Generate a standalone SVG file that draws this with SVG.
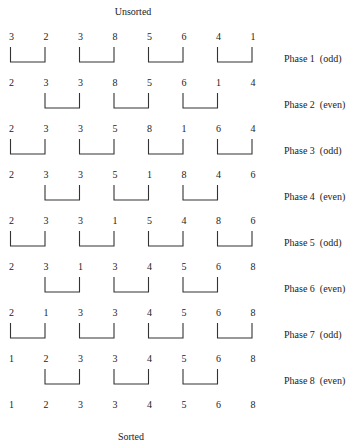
<svg xmlns="http://www.w3.org/2000/svg" width="356" height="443" viewBox="0 0 356 443" font-family="'Liberation Serif', 'Times New Roman', serif">
<style>
text{font-family:"Liberation Serif","Times New Roman",serif;font-size:10px;fill:#222}
.n{text-anchor:middle}
.lbl{white-space:pre}
.b{fill:none;stroke:#333;stroke-width:1.1}
</style>
<rect width="356" height="443" fill="#fff"/>
<g id="title-unsorted"><text x="133" y="15" class="n">Unsorted</text></g>
<g id="row1"><text class="n" y="40"><tspan x="11.5">3</tspan><tspan x="46">2</tspan><tspan x="80.5">3</tspan><tspan x="115">8</tspan><tspan x="149.5">5</tspan><tspan x="184">6</tspan><tspan x="218.5">4</tspan><tspan x="253">1</tspan></text></g>
<g id="row2"><text class="n" y="86"><tspan x="11.5">2</tspan><tspan x="46">3</tspan><tspan x="80.5">3</tspan><tspan x="115">8</tspan><tspan x="149.5">5</tspan><tspan x="184">6</tspan><tspan x="218.5">1</tspan><tspan x="253">4</tspan></text></g>
<g id="row3"><text class="n" y="132"><tspan x="11.5">2</tspan><tspan x="46">3</tspan><tspan x="80.5">3</tspan><tspan x="115">5</tspan><tspan x="149.5">8</tspan><tspan x="184">1</tspan><tspan x="218.5">6</tspan><tspan x="253">4</tspan></text></g>
<g id="row4"><text class="n" y="178"><tspan x="11.5">2</tspan><tspan x="46">3</tspan><tspan x="80.5">3</tspan><tspan x="115">5</tspan><tspan x="149.5">1</tspan><tspan x="184">8</tspan><tspan x="218.5">4</tspan><tspan x="253">6</tspan></text></g>
<g id="row5"><text class="n" y="224"><tspan x="11.5">2</tspan><tspan x="46">3</tspan><tspan x="80.5">3</tspan><tspan x="115">1</tspan><tspan x="149.5">5</tspan><tspan x="184">4</tspan><tspan x="218.5">8</tspan><tspan x="253">6</tspan></text></g>
<g id="row6"><text class="n" y="270"><tspan x="11.5">2</tspan><tspan x="46">3</tspan><tspan x="80.5">1</tspan><tspan x="115">3</tspan><tspan x="149.5">4</tspan><tspan x="184">5</tspan><tspan x="218.5">6</tspan><tspan x="253">8</tspan></text></g>
<g id="row7"><text class="n" y="316"><tspan x="11.5">2</tspan><tspan x="46">1</tspan><tspan x="80.5">3</tspan><tspan x="115">3</tspan><tspan x="149.5">4</tspan><tspan x="184">5</tspan><tspan x="218.5">6</tspan><tspan x="253">8</tspan></text></g>
<g id="row8"><text class="n" y="362"><tspan x="11.5">1</tspan><tspan x="46">2</tspan><tspan x="80.5">3</tspan><tspan x="115">3</tspan><tspan x="149.5">4</tspan><tspan x="184">5</tspan><tspan x="218.5">6</tspan><tspan x="253">8</tspan></text></g>
<g id="row9"><text class="n" y="408"><tspan x="11.5">1</tspan><tspan x="46">2</tspan><tspan x="80.5">3</tspan><tspan x="115">3</tspan><tspan x="149.5">4</tspan><tspan x="184">5</tspan><tspan x="218.5">6</tspan><tspan x="253">8</tspan></text></g>
<g id="title-sorted"><text x="131" y="440" class="n">Sorted</text></g>
<g id="phase1"><text x="284" y="62" class="lbl">Phase 1  (odd)</text></g>
<g id="phase2"><text x="284" y="108" class="lbl">Phase 2  (even)</text></g>
<g id="phase3"><text x="284" y="154" class="lbl">Phase 3  (odd)</text></g>
<g id="phase4"><text x="284" y="200" class="lbl">Phase 4  (even)</text></g>
<g id="phase5"><text x="284" y="246" class="lbl">Phase 5  (odd)</text></g>
<g id="phase6"><text x="284" y="292" class="lbl">Phase 6  (even)</text></g>
<g id="phase7"><text x="284" y="338" class="lbl">Phase 7  (odd)</text></g>
<g id="phase8"><text x="284" y="384" class="lbl">Phase 8  (even)</text></g>
<g id="connectors">
<path class="b" d="M10.5 47V62H45V47M79.5 47V62H114V47M148.5 47V62H183V47M217.5 47V62H252V47"/>
<path class="b" d="M45 93V108H79.5V93M114 93V108H148.5V93M183 93V108H217.5V93"/>
<path class="b" d="M10.5 139V154H45V139M79.5 139V154H114V139M148.5 139V154H183V139M217.5 139V154H252V139"/>
<path class="b" d="M45 185V200H79.5V185M114 185V200H148.5V185M183 185V200H217.5V185"/>
<path class="b" d="M10.5 231V246H45V231M79.5 231V246H114V231M148.5 231V246H183V231M217.5 231V246H252V231"/>
<path class="b" d="M45 277V292H79.5V277M114 277V292H148.5V277M183 277V292H217.5V277"/>
<path class="b" d="M10.5 323V338H45V323M79.5 323V338H114V323M148.5 323V338H183V323M217.5 323V338H252V323"/>
<path class="b" d="M45 369V384H79.5V369M114 369V384H148.5V369M183 369V384H217.5V369"/>
</g>
</svg>
